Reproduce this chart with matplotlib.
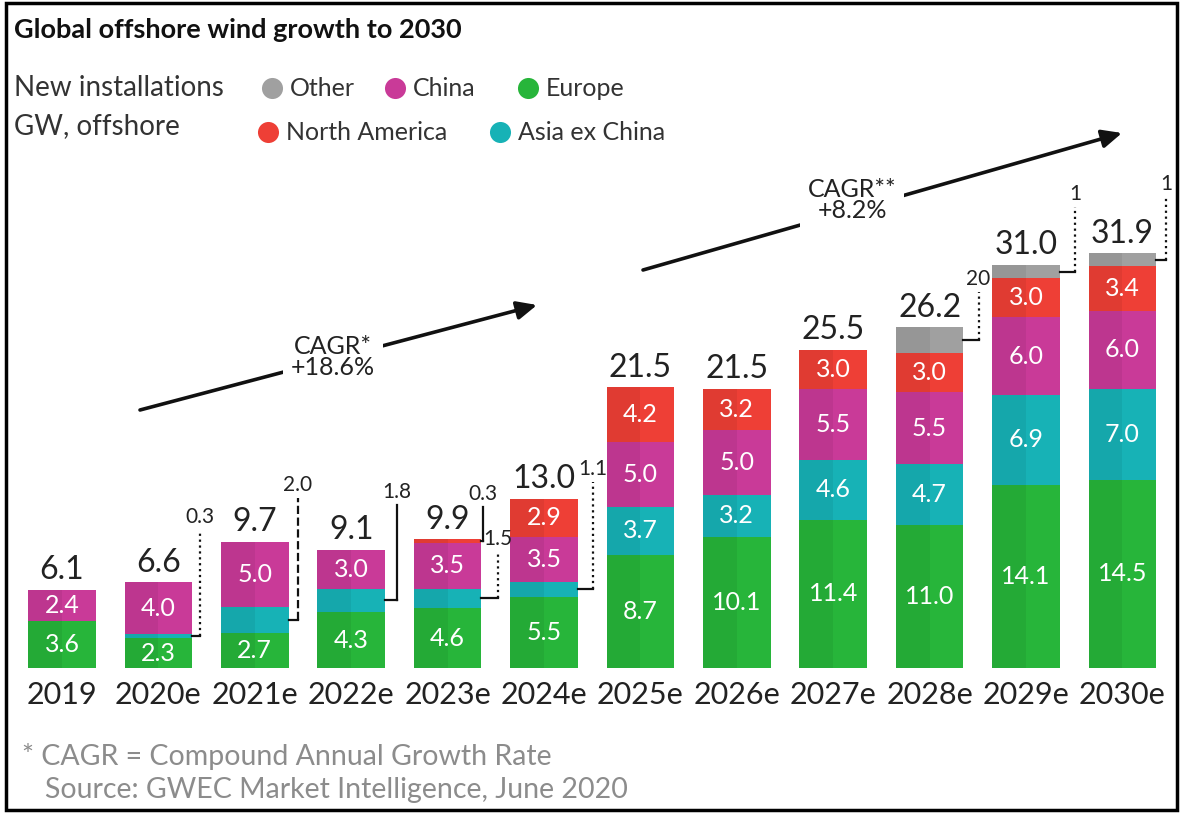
import matplotlib
matplotlib.use('Agg')
import matplotlib.pyplot as plt
from matplotlib.patches import Rectangle
import numpy as np

plt.rcParams['font.family'] = ['Lato', 'DejaVu Sans']

# ---------------- data ----------------
years = ['2019', '2020e', '2021e', '2022e', '2023e', '2024e',
         '2025e', '2026e', '2027e', '2028e', '2029e', '2030e']
europe = [3.6, 2.3, 2.7, 4.3, 4.6, 5.5, 8.7, 10.1, 11.4, 11.0, 14.1, 14.5]
asia_ex_china = [0.0, 0.3, 2.0, 1.8, 1.5, 1.1, 3.7, 3.2, 4.6, 4.7, 6.9, 7.0]
china = [2.4, 4.0, 5.0, 3.0, 3.5, 3.5, 5.0, 5.0, 5.5, 5.5, 6.0, 6.0]
north_america = [0.0, 0.0, 0.0, 0.0, 0.3, 2.9, 4.2, 3.2, 3.0, 3.0, 3.0, 3.4]
other = [0.0, 0.0, 0.0, 0.0, 0.0, 0.0, 0.0, 0.0, 0.0, 2.0, 1.0, 1.0]
totals = [6.1, 6.6, 9.7, 9.1, 9.9, 13.0, 21.5, 21.5, 25.5, 26.2, 31.0, 31.9]

# callouts for thin segments: (year index, series name, label text)
callouts = [(1, 'Asia ex China', '0.3'), (2, 'Asia ex China', '2.0'),
            (3, 'Asia ex China', '1.8'), (4, 'North America', '0.3'),
            (4, 'Asia ex China', '1.5'), (5, 'Asia ex China', '1.1'),
            (9, 'Other', '20'), (10, 'Other', '1'), (11, 'Other', '1')]

series = [('Europe', europe, '#27B53A'),
          ('Asia ex China', asia_ex_china, '#17B2B6'),
          ('China', china, '#C93A98'),
          ('North America', north_america, '#EE3F36'),
          ('Other', other, '#A0A0A0')]

# ---------------- layout helpers (pixel -> data) ----------------
W, H = 1182, 813
X0, DX = 62.0, 96.4   # first bar centre px, spacing px
Y0, DY = 668.0, 13.0  # baseline px, px per GW


def X(px):
    return (px - X0) / DX


def Y(py):
    return (Y0 - py) / DY


fig = plt.figure(figsize=(W / 100, H / 100), dpi=100)
ax = fig.add_axes([0, 0, 1, 1])
ax.set_xlim(X(0), X(W))
ax.set_ylim(Y(H), Y(0))
ax.axis('off')

x = np.arange(len(years))
bw = 0.70
bottom = np.zeros(len(years))
seg_mid = {}
for name, vals, col in series:
    v = np.array(vals)
    ax.bar(x, v, bw, bottom=bottom, color=col, linewidth=0, zorder=2)
    # slightly darker left face for a folded look
    ax.bar(x - bw / 4, v, bw / 2, bottom=bottom, color='black', alpha=0.06,
           linewidth=0, zorder=3)
    seg_mid[name] = bottom + v / 2
    for i, val in enumerate(v):
        if val > 2.1 and name != 'Other':
            ax.text(i, bottom[i] + val / 2, f'{val:.1f}', ha='center',
                    va='center', color='white', fontsize=18, zorder=4)
    bottom = bottom + v

# totals
for i, t in enumerate(totals):
    ax.text(i, bottom[i] + 0.35, f'{t:.1f}', ha='center', va='bottom',
            fontsize=23, color='#222222', zorder=4)

# year labels
for i, yl in enumerate(years):
    ax.text(i, Y(695), yl, ha='center', va='center', fontsize=22,
            color='#222222')

# callouts
call_style = {(1, 'Asia ex China'): (42, 530, ':'),
              (2, 'Asia ex China'): (43, 498, '--'),
              (3, 'Asia ex China'): (46, 505, '-'),
              (4, 'North America'): (35, 507, '-'),
              (4, 'Asia ex China'): (50, 552, ':'),
              (5, 'Asia ex China'): (49, 482, ':'),
              (9, 'Other'): (49, 292, ':'),
              (10, 'Other'): (49, 207, ':'),
              (11, 'Other'): (44, 197, ':')}
for i, name, txt in callouts:
    off, top_py, ls = call_style[(i, name)]
    lx = i + off / DX
    ym = seg_mid[name][i]
    ax.plot([i + bw / 2, lx], [ym, ym], color='#111111', lw=1.6, zorder=5)
    ax.plot([lx, lx], [ym, Y(top_py)], color='#111111', lw=1.6, ls=ls,
            zorder=5)
    ax.text(lx, Y(top_py) + 0.2, txt, ha='center', va='bottom', fontsize=15,
            color='#222222')

# CAGR arrows
for (p0, p1, tc, label) in [((140, 410), (537, 305), (333, 357), 'CAGR*\n+18.6%'),
                            ((643, 270), (1122, 133), (852, 200), 'CAGR**\n+8.2%')]:
    ax.annotate('', xy=(X(p1[0]), Y(p1[1])), xytext=(X(p0[0]), Y(p0[1])),
                arrowprops=dict(arrowstyle='-|>,head_length=1.2,head_width=0.55',
                                lw=2.6, color='#111111', shrinkA=0, shrinkB=0),
                zorder=6)
    ax.text(X(tc[0]), Y(tc[1]), label, ha='center', va='center', fontsize=18,
            color='#222222', linespacing=0.92, zorder=7,
            bbox=dict(boxstyle='square,pad=0.3', fc='white', ec='none'))

# title, legend, footnote (figure pixel coords)
def F(px, py):
    return px / W, 1 - py / H


fig.text(*F(14, 30), 'Global offshore wind growth to 2030', fontsize=19.5,
         fontweight='bold', color='#111111', va='center', ha='left')
fig.text(*F(14, 88), 'New installations', fontsize=20, color='#333333',
         va='center')
fig.text(*F(14, 126), 'GW, offshore', fontsize=20, color='#333333',
         va='center')

cols = {n: c for n, _, c in series}
leg = [('Other', 272, 88), ('China', 395, 88), ('Europe', 528, 88),
       ('North America', 268, 132), ('Asia ex China', 500, 132)]
for name, px, py in leg:
    fx, fy = F(px, py)
    ax.scatter([fx], [fy], s=230, color=cols[name], transform=fig.transFigure,
               zorder=8, linewidths=0, clip_on=False)
    fig.text(fx + 18 / W, fy, name, fontsize=18, color='#333333', va='center')

fig.text(*F(22, 756), '* CAGR = Compound Annual Growth Rate', fontsize=20.5,
         color='#8C8C8C', va='center')
fig.text(*F(45, 790), 'Source: GWEC Market Intelligence, June 2020',
         fontsize=20.5, color='#8C8C8C', va='center')

fig.patches.append(Rectangle((6 / W, 3 / H), (1177 - 6) / W, (810 - 3) / H,
                             transform=fig.transFigure, fill=False, lw=2.5,
                             ec='black'))

fig.savefig('out.png', dpi=100, facecolor='white')
